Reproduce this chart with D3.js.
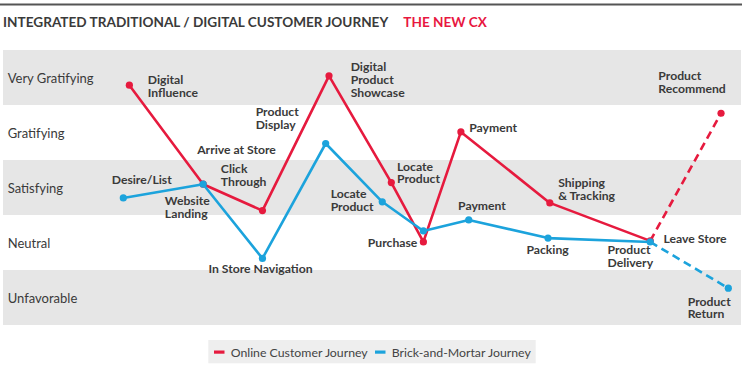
<!DOCTYPE html>
<html><head><meta charset="utf-8">
<script src="https://cdn.jsdelivr.net/npm/d3@7"></script>
<style>
html,body{margin:0;padding:0;background:#fff;}
svg{display:block;font-family:Lato, "Open Sans", sans-serif;}
</style></head>
<body><svg id="c" width="747" height="372"></svg>
<script>
// ---- data ----
const levels = ["Unfavorable", "Neutral", "Satisfying", "Gratifying", "Very Gratifying"];
const onlineStages = ["Digital Influence", "Website Landing", "Click Through", "Digital Product Showcase", "Locate Product", "Purchase", "Payment", "Shipping & Tracking", "Product Delivery", "Product Recommend"];
const onlineX = [1.0, 13.2, 23.0, 34.0, 44.3, 49.6, 55.8, 70.5, 87.1, 98.8];
const onlineY = [4.36, 2.56, 2.08, 4.53, 2.59, 1.51, 3.51, 2.22, 1.53, 3.85];
const storeStages = ["Desire/List", "Website Landing", "In Store Navigation", "Product Display", "Locate Product", "Purchase", "Payment", "Packing", "Leave Store", "Product Return"];
const storeX = [0, 13.2, 23.0, 33.45, 42.8, 49.6, 57.1, 70.2, 87.1, 100];
const storeY = [2.31, 2.56, 1.21, 3.30, 2.24, 1.71, 1.91, 1.58, 1.51, 0.67];
const seriesNames = ["Online Customer Journey", "Brick-and-Mortar Journey"];
// annotation: [series, point index, text lines, dx, dy]
const annotations = [
  [0, 0, ["Digital", "Influence"], 18.4, -1.5],
  [1, 1, ["Website", "Landing"], -38.3, 20.7],
  [0, 2, ["Click", "Through"], -41.6, -37.4],
  [1, 1, ["Arrive at Store"], -6, -30.3],
  [1, 3, ["Product", "Display"], -70, -27.3],
  [0, 3, ["Digital", "Product", "Showcase"], 21.7, -4.7],
  [0, 4, ["Locate", "Product"], 5.7, -12],
  [0, 5, ["Purchase"], -55.6, 5],
  [0, 6, ["Payment"], 8.3, 0],
  [0, 7, ["Shipping", "& Tracking"], 8.3, -16],
  [0, 8, ["Product", "Delivery"], -42.7, 13],
  [0, 9, ["Product", "Recommend"], -62.7, -33.3],
  [1, 0, ["Desire/List"], -11.6, -13.7],
  [1, 2, ["In Store Navigation"], -54, 15],
  [1, 4, ["Locate", "Product"], -51.6, -4],
  [1, 6, ["Payment"], -10.7, -10],
  [1, 7, ["Packing"], -21.6, 16],
  [1, 8, ["Leave Store"], 13.3, 1],
  [1, 9, ["Product", "Return"], -40.6, 17.4]
];

const RED = "#e61a3e", BLUE = "#1ca3dc", TXT = "#3a3a3a";
const svg = d3.select("#c");
const x = d3.scaleLinear().domain([0, 100]).range([123.3, 728.3]);
const y = d3.scaleLinear().domain([0, 5]).range([325, 50]);

// top rule
svg.append("line").attr("x1", 0).attr("x2", 742).attr("y1", 4.5).attr("y2", 4.5)
  .attr("stroke", "#555").attr("stroke-width", 2);
// title
const title = svg.append("text").attr("x", 3).attr("y", 27).attr("font-size", 13.6).attr("font-weight", 700);
title.append("tspan").attr("fill", TXT).text("INTEGRATED TRADITIONAL / DIGITAL CUSTOMER JOURNEY");
title.append("tspan").attr("fill", "#e8173f").attr("dx", 15).text("THE NEW CX");

// bands
const bandG = svg.append("g");
levels.forEach((lv, i) => {
  if (i % 2 === 0) {
    bandG.append("rect").attr("x", 3).attr("width", 738)
      .attr("y", y(i + 1)).attr("height", y(i) - y(i + 1)).attr("fill", "#e6e6e6");
  }
  bandG.append("text").attr("x", 7.7).attr("y", (y(i) + y(i + 1)) / 2 + 5.5)
    .attr("font-size", 13).attr("fill", TXT).text(lv);
});

// series
const series = [
  {xs: onlineX, ys: onlineY, color: RED},
  {xs: storeX, ys: storeY, color: BLUE}
];
const line = d3.line().x(d => x(d[0])).y(d => y(d[1]));
series.forEach(s => {
  const pts = s.xs.map((v, i) => [v, s.ys[i]]);
  const n = pts.length;
  svg.append("path").attr("d", line(pts.slice(0, n - 1))).attr("fill", "none")
    .attr("stroke", s.color).attr("stroke-width", 2.6).attr("stroke-linejoin", "round");
  svg.append("path").attr("d", line(pts.slice(n - 2))).attr("fill", "none")
    .attr("stroke", s.color).attr("stroke-width", 2.6).attr("stroke-dasharray", "8,5");
  svg.append("g").selectAll("circle").data(pts).join("circle")
    .attr("cx", d => x(d[0])).attr("cy", d => y(d[1])).attr("r", 3.6).attr("fill", s.color);
});

// annotations
const annG = svg.append("g").attr("font-size", 12.2).attr("font-weight", 700).attr("fill", TXT);
annotations.forEach(([si, pi, lines, dx, dy]) => {
  const s = series[si];
  const t = annG.append("text").attr("x", x(s.xs[pi]) + dx).attr("y", y(s.ys[pi]) + dy);
  lines.forEach((l, k) => t.append("tspan").attr("x", x(s.xs[pi]) + dx).attr("dy", k ? 12.8 : 0).text(l));
});

// legend
const lg = svg.append("g");
lg.append("rect").attr("x", 208.3).attr("y", 340).attr("width", 327.4).attr("height", 23.3).attr("fill", "#eeeeee");
const lx = [214, 375];
seriesNames.forEach((nm, i) => {
  lg.append("rect").attr("x", lx[i]).attr("y", 350.5).attr("width", 10.5).attr("height", 3.2).attr("fill", series[i].color);
  lg.append("text").attr("x", lx[i] + 16.7).attr("y", 356.5).attr("font-size", 12.3).attr("fill", "#444").text(nm);
});
</script></body></html>
